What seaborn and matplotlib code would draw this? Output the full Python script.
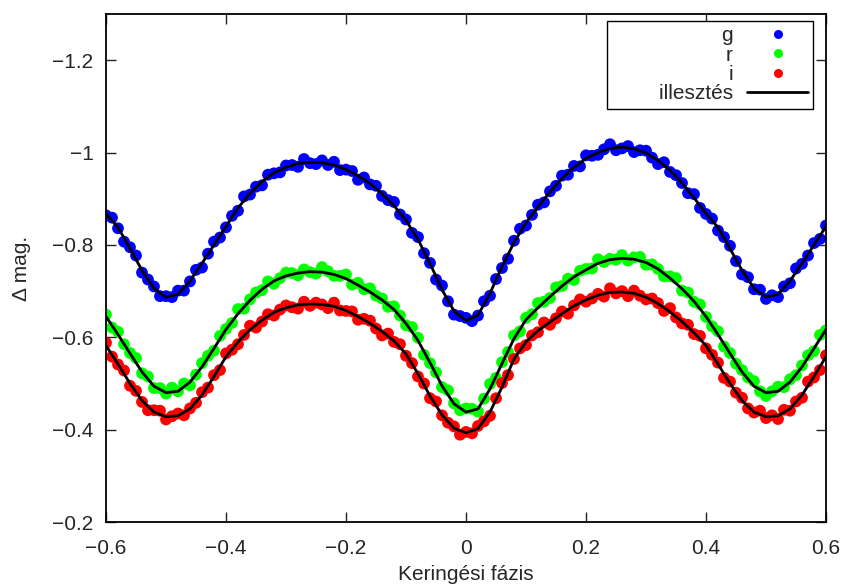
import numpy as np
import pandas as pd
import matplotlib
matplotlib.use("Agg")
import matplotlib.pyplot as plt
import seaborn as sns
from matplotlib.lines import Line2D

# Orbital phase grid of the folded observations and of the model curve
phase = np.round(np.linspace(-0.60, 0.60, 121), 2)
fit_phase = np.round(np.linspace(-0.60, 0.60, 61), 2)

# Differential magnitudes, g band
g_mag = [
    -0.864, -0.859, -0.836, -0.807, -0.795, -0.777, -0.740, -0.725, -0.710, -0.689,
    -0.689, -0.687, -0.701, -0.701, -0.721, -0.746, -0.751, -0.781, -0.807, -0.816,
    -0.838, -0.863, -0.874, -0.905, -0.909, -0.926, -0.929, -0.952, -0.955, -0.957,
    -0.972, -0.973, -0.969, -0.986, -0.977, -0.975, -0.983, -0.973, -0.980, -0.962,
    -0.963, -0.960, -0.941, -0.946, -0.931, -0.928, -0.906, -0.897, -0.893, -0.866,
    -0.855, -0.826, -0.817, -0.782, -0.761, -0.725, -0.712, -0.678, -0.649, -0.646,
    -0.642, -0.635, -0.647, -0.678, -0.690, -0.726, -0.750, -0.770, -0.809, -0.835,
    -0.842, -0.865, -0.887, -0.892, -0.916, -0.928, -0.950, -0.952, -0.971, -0.970,
    -0.994, -0.993, -0.995, -1.007, -1.018, -1.005, -1.009, -1.014, -1.001, -1.005,
    -1.004, -0.989, -0.975, -0.979, -0.958, -0.951, -0.934, -0.912, -0.910, -0.880,
    -0.867, -0.857, -0.831, -0.817, -0.798, -0.765, -0.736, -0.730, -0.704, -0.703,
    -0.683, -0.691, -0.687, -0.710, -0.717, -0.749, -0.759, -0.777, -0.804, -0.813,
    -0.842,
]

# Differential magnitudes, r band
r_mag = [
    -0.649, -0.621, -0.612, -0.585, -0.566, -0.555, -0.522, -0.515, -0.490, -0.490,
    -0.478, -0.491, -0.483, -0.500, -0.496, -0.519, -0.544, -0.560, -0.571, -0.603,
    -0.618, -0.631, -0.661, -0.662, -0.682, -0.697, -0.702, -0.721, -0.716, -0.728,
    -0.740, -0.739, -0.734, -0.747, -0.741, -0.738, -0.752, -0.743, -0.733, -0.733,
    -0.736, -0.714, -0.718, -0.704, -0.706, -0.690, -0.684, -0.666, -0.667, -0.647,
    -0.626, -0.622, -0.599, -0.562, -0.544, -0.524, -0.492, -0.485, -0.457, -0.442,
    -0.446, -0.445, -0.439, -0.467, -0.499, -0.512, -0.546, -0.568, -0.604, -0.613,
    -0.642, -0.650, -0.674, -0.677, -0.685, -0.708, -0.711, -0.727, -0.724, -0.744,
    -0.748, -0.749, -0.769, -0.763, -0.770, -0.768, -0.778, -0.766, -0.773, -0.774,
    -0.757, -0.758, -0.748, -0.732, -0.732, -0.728, -0.701, -0.697, -0.677, -0.671,
    -0.644, -0.624, -0.613, -0.580, -0.566, -0.543, -0.529, -0.513, -0.505, -0.483,
    -0.473, -0.483, -0.493, -0.492, -0.509, -0.518, -0.539, -0.561, -0.570, -0.605,
    -0.615,
]

# Differential magnitudes, i band
i_mag = [
    -0.588, -0.558, -0.541, -0.528, -0.495, -0.484, -0.460, -0.442, -0.442, -0.441,
    -0.422, -0.429, -0.435, -0.431, -0.446, -0.458, -0.481, -0.491, -0.518, -0.529,
    -0.565, -0.573, -0.585, -0.605, -0.625, -0.621, -0.634, -0.650, -0.647, -0.660,
    -0.669, -0.665, -0.662, -0.677, -0.668, -0.675, -0.671, -0.663, -0.675, -0.658,
    -0.657, -0.656, -0.638, -0.640, -0.636, -0.619, -0.604, -0.608, -0.590, -0.585,
    -0.560, -0.544, -0.515, -0.500, -0.468, -0.461, -0.431, -0.415, -0.407, -0.389,
    -0.395, -0.392, -0.408, -0.418, -0.430, -0.468, -0.501, -0.518, -0.553, -0.576,
    -0.583, -0.604, -0.611, -0.632, -0.627, -0.641, -0.656, -0.651, -0.669, -0.682,
    -0.677, -0.684, -0.694, -0.688, -0.706, -0.695, -0.700, -0.689, -0.701, -0.690,
    -0.682, -0.684, -0.674, -0.657, -0.663, -0.643, -0.630, -0.627, -0.607, -0.603,
    -0.576, -0.562, -0.545, -0.512, -0.504, -0.480, -0.469, -0.446, -0.437, -0.441,
    -0.425, -0.431, -0.423, -0.443, -0.441, -0.461, -0.469, -0.504, -0.513, -0.529,
    -0.561,
]

# Model light curves
g_fit = [
    -0.868, -0.838, -0.792, -0.745, -0.706, -0.687, -0.693, -0.722, -0.760, -0.800,
    -0.840, -0.880, -0.912, -0.937, -0.956, -0.968, -0.976, -0.979, -0.978, -0.973,
    -0.963, -0.950, -0.933, -0.911, -0.885, -0.853, -0.812, -0.760, -0.703, -0.657,
    -0.636, -0.648, -0.695, -0.753, -0.805, -0.848, -0.882, -0.915, -0.944, -0.968,
    -0.987, -1.000, -1.009, -1.012, -1.008, -0.999, -0.983, -0.962, -0.934, -0.902,
    -0.868, -0.838, -0.792, -0.745, -0.706, -0.687, -0.693, -0.722, -0.760, -0.800,
    -0.840,
]
r_fit = [
    -0.645, -0.606, -0.565, -0.525, -0.494, -0.480, -0.483, -0.503, -0.536, -0.576,
    -0.617, -0.651, -0.680, -0.704, -0.722, -0.733, -0.739, -0.742, -0.741, -0.736,
    -0.727, -0.713, -0.698, -0.681, -0.660, -0.630, -0.593, -0.545, -0.495, -0.456,
    -0.438, -0.445, -0.488, -0.543, -0.597, -0.638, -0.664, -0.688, -0.711, -0.731,
    -0.746, -0.760, -0.768, -0.771, -0.769, -0.762, -0.748, -0.728, -0.705, -0.678,
    -0.645, -0.606, -0.565, -0.525, -0.494, -0.480, -0.483, -0.503, -0.536, -0.576,
    -0.617,
]
i_fit = [
    -0.582, -0.542, -0.500, -0.463, -0.438, -0.428, -0.430, -0.445, -0.475, -0.515,
    -0.558, -0.590, -0.616, -0.637, -0.654, -0.664, -0.670, -0.672, -0.671, -0.667,
    -0.658, -0.645, -0.630, -0.613, -0.592, -0.564, -0.521, -0.473, -0.432, -0.403,
    -0.393, -0.402, -0.438, -0.492, -0.553, -0.590, -0.614, -0.633, -0.651, -0.668,
    -0.681, -0.691, -0.697, -0.698, -0.695, -0.687, -0.673, -0.655, -0.634, -0.610,
    -0.582, -0.542, -0.500, -0.463, -0.438, -0.428, -0.430, -0.445, -0.475, -0.515,
    -0.558,
]

band_labels = ["g", "r", "i"]
fit_label = "illesztés"
band_colors = ["#0000ff", "#00ff00", "#ff0000"]

x_ticks = [-0.6, -0.4, -0.2, 0.0, 0.2, 0.4, 0.6]
x_ticklabels = ["−0.6", "−0.4", "−0.2", "0", "0.2", "0.4", "0.6"]
y_ticks = [-1.2, -1.0, -0.8, -0.6, -0.4, -0.2]
y_ticklabels = ["−1.2", "−1", "−0.8", "−0.6", "−0.4", "−0.2"]

FS = 15

sns.set_style("ticks")
plt.rcParams["font.family"] = ["Liberation Sans", "DejaVu Sans"]

obs = pd.DataFrame({
    "phase": np.concatenate([phase] * 3),
    "mag": np.concatenate([g_mag, r_mag, i_mag]),
    "band": np.repeat(band_labels, len(phase)),
})
fits = pd.DataFrame({
    "phase": np.concatenate([fit_phase] * 3),
    "mag": np.concatenate([g_fit, r_fit, i_fit]),
    "band": np.repeat(band_labels, len(fit_phase)),
})

fig = plt.figure(figsize=(8.46, 5.86), dpi=100)
ax = fig.add_axes([106 / 846, 1 - 522 / 586, 720 / 846, 508 / 586])

palette = dict(zip(band_labels, band_colors))
sns.scatterplot(data=obs, x="phase", y="mag", hue="band", palette=palette,
                s=72, linewidth=0, alpha=1, legend=False, ax=ax, zorder=2)
sns.lineplot(data=fits, x="phase", y="mag", units="band", estimator=None,
             color="black", linewidth=2.0, legend=False, ax=ax, zorder=3)

ax.set_xlim(-0.6, 0.6)
ax.set_ylim(-0.2, -1.3)
ax.set_xticks(x_ticks)
ax.set_xticklabels(x_ticklabels)
ax.set_yticks(y_ticks)
ax.set_yticklabels(y_ticklabels)
ax.tick_params(axis="both", direction="in", length=7, width=1.0,
               top=True, right=True, labelsize=FS, color="#222222")
ax.tick_params(axis="x", pad=12)
ax.tick_params(axis="y", pad=9)
for sp in ax.spines.values():
    sp.set_visible(True)
    sp.set_linewidth(1.3)
    sp.set_color("black")

ax.set_xlabel("Keringési fázis", fontsize=FS, labelpad=5)
ax.set_ylabel("Δ mag.", fontsize=FS, labelpad=15)

handles = [Line2D([], [], linestyle="none", marker="o", markersize=6.5,
                  markerfacecolor=c, markeredgewidth=0) for c in band_colors]
handles.append(Line2D([], [], color="black", linewidth=2.0))
leg = ax.legend(handles, band_labels + ["        " + fit_label], loc="upper right",
                bbox_to_anchor=((813 - 106) / 720, (522 - 21) / 508),
                borderaxespad=0, markerfirst=False, fontsize=FS,
                handlelength=2.9, handletextpad=0.7, labelspacing=0.02,
                borderpad=0.25, fancybox=False, framealpha=1,
                edgecolor="black")
leg.get_frame().set_linewidth(1.0)

fig.savefig("out.png", dpi=100)
